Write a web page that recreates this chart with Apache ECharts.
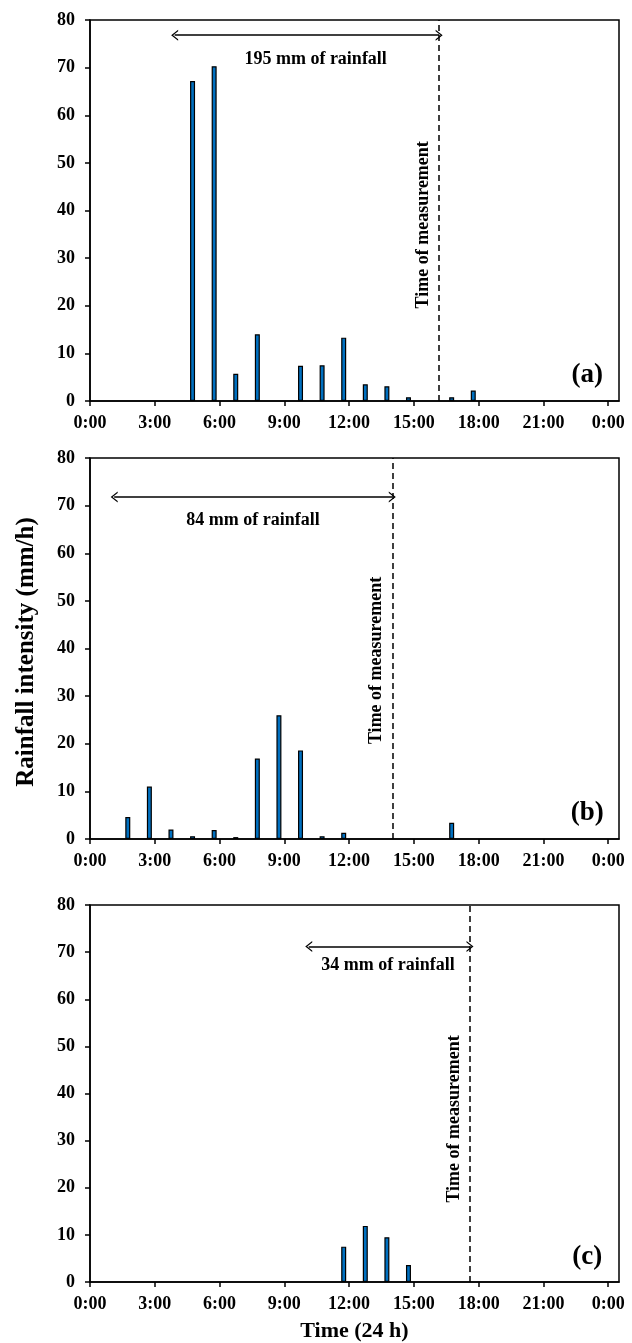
<!DOCTYPE html>
<html>
<head>
<meta charset="utf-8">
<script src="https://cdn.jsdelivr.net/npm/echarts@6/dist/echarts.min.js"></script>
<style>
  html, body { margin: 0; padding: 0; background: #fff; }
  #chart { width: 632px; height: 1343px; }
</style>
</head>
<body>
<div id="chart"></div>
<script>
// hourly rainfall intensity (mm/h), bars plotted at the 3/4 point of each hour
var hoursA = [4.75, 5.75, 6.75, 7.75, 9.75, 10.75, 11.75, 12.75, 13.75, 14.75, 16.75, 17.75];
var rainA = [67.2, 70.3, 5.7, 14.0, 7.4, 7.5, 13.3, 3.5, 3.1, 0.8, 0.8, 2.2];

var hoursB = [1.75, 2.75, 3.75, 4.75, 5.75, 6.75, 7.75, 8.75, 9.75, 10.75, 11.75, 16.75];
var rainB = [4.6, 11.0, 2.0, 0.6, 1.9, 0.4, 16.9, 26.0, 18.6, 0.6, 1.3, 3.4];

var hoursC = [11.75, 12.75, 13.75, 14.75];
var rainC = [7.5, 11.9, 9.5, 3.6];

// annotations per panel
var panelNames = ['(a)', '(b)', '(c)'];
var measureTime = [16.17, 14.0, 17.6];
var rainStart = [3.92, 1.12, 10.13];
var rainTotals = ['195 mm of rainfall', '84 mm of rainfall', '34 mm of rainfall'];
var arrowLevel = [76.8, 71.8, 71.2];
var totalLevel = [71.8, 66.9, 67.1];
var totalCenter = [10.45, 7.55, 13.8];
var measureLabelLevel = [37, 37.5, 34.6];

var hourTicks = [0, 3, 6, 9, 12, 15, 18, 21, 24];

var FONT = '"Liberation Serif", "Times New Roman", serif';
var BLUE = '#0070C0';

var hours = [hoursA, hoursB, hoursC];
var rains = [rainA, rainB, rainC];
var gridTops = [20, 458, 905];
var gridHeights = [381, 381, 383];

function pairs(xs, ys) {
  var out = [];
  xs.forEach(function(x, i) { out.push([x, ys[i]]); });
  return out;
}

var chevron = 'path://M0,10 L5,0 L10,10 L8.6,10 L5,2.8 L1.4,10 Z';

var grids = [], xAxes = [], yAxes = [], series = [];
for (var i = 0; i < 3; i++) {
  grids.push({
    left: 90, right: 13, top: gridTops[i], height: gridHeights[i],
    show: true, borderColor: '#000', borderWidth: 1.5
  });
  xAxes.push({
    gridIndex: i, type: 'value', min: 0, max: 24.5,
    axisLine: { show: true, lineStyle: { color: '#000', width: 1.5 } },
    axisTick: { show: true, length: 5, customValues: hourTicks, lineStyle: { color: '#000', width: 1.5 } },
    axisLabel: {
      customValues: hourTicks, margin: 13,
      color: '#000', fontFamily: FONT, fontWeight: 'bold', fontSize: 18,
      formatter: function(v) { return (Math.round(v) % 24) + ':00'; }
    },
    splitLine: { show: false },
    name: i === 2 ? 'Time (24 h)' : '',
    nameLocation: 'middle', nameGap: 38,
    nameTextStyle: { color: '#000', fontFamily: FONT, fontWeight: 'bold', fontSize: 22 }
  });
  yAxes.push({
    gridIndex: i, type: 'value', min: 0, max: 80, interval: 10,
    axisLine: { show: true, lineStyle: { color: '#000', width: 1.5 } },
    axisTick: { show: true, length: 5, lineStyle: { color: '#000', width: 1.5 } },
    axisLabel: { color: '#000', fontFamily: FONT, fontWeight: 'bold', fontSize: 18, margin: 15 },
    splitLine: { show: false }
  });
  series.push({
    type: 'bar', xAxisIndex: i, yAxisIndex: i,
    data: pairs(hours[i], rains[i]),
    barWidth: 5,
    itemStyle: { color: BLUE, borderColor: '#000', borderWidth: 1.2 },
    silent: true,
    markLine: {
      silent: true, animation: false,
      symbol: 'none',
      data: [
        {
          xAxis: measureTime[i],
          lineStyle: { color: '#000', width: 1.5, type: [6, 4] },
          label: { show: false }
        },
        [
          { coord: [rainStart[i], arrowLevel[i]], symbol: chevron, symbolSize: [11, 7] },
          { coord: [measureTime[i], arrowLevel[i]], symbol: chevron, symbolSize: [11, 7] }
        ]
      ],
      lineStyle: { color: '#000', width: 1.5, type: 'solid' },
      label: { show: false }
    },
    markPoint: {
      silent: true, animation: false,
      symbolSize: 0,
      data: [
        {
          coord: [totalCenter[i], totalLevel[i]],
          label: { show: true, formatter: rainTotals[i], color: '#000', fontFamily: FONT, fontWeight: 'bold', fontSize: 18 }
        },
        {
          coord: [measureTime[i], measureLabelLevel[i]],
          label: {
            show: true, formatter: 'Time of measurement', rotate: 90, offset: [0, -16],
            color: '#000', fontFamily: FONT, fontWeight: 'bold', fontSize: 18
          }
        },
        {
          coord: [23.03, 5.4],
          label: { show: true, formatter: panelNames[i], color: '#000', fontFamily: FONT, fontWeight: 'bold', fontSize: 27 }
        }
      ]
    }
  });
}

var chart = echarts.init(document.getElementById('chart'));
chart.setOption({
  animation: false,
  backgroundColor: '#fff',
  grid: grids,
  xAxis: xAxes,
  yAxis: yAxes,
  series: series,
  graphic: [{
    type: 'text',
    rotation: Math.PI / 2,
    x: 27, y: 652,
    style: {
      text: 'Rainfall intensity (mm/h)',
      fill: '#000', font: 'bold 25px "Liberation Serif", serif',
      textAlign: 'center', textVerticalAlign: 'middle'
    }
  }]
});
</script>
</body>
</html>
